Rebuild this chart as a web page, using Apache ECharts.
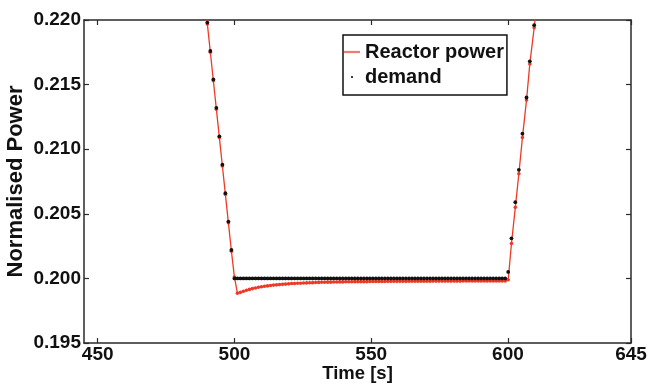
<!DOCTYPE html>
<html>
<head>
<meta charset="utf-8">
<script src="https://cdn.jsdelivr.net/npm/echarts@6/dist/echarts.min.js"></script>
<style>
html,body{margin:0;padding:0;background:#fff;}
#chart{width:648px;height:392px;}
</style>
</head>
<body>
<div id="chart"></div>
<script>
// ---- data ----
var time = [487.9,
  490.1, 491.2, 492.3, 493.4, 494.5, 495.6, 496.7, 497.8, 498.9,
  500.0, 501.1, 502.2, 503.3, 504.4, 505.5, 506.6, 507.7, 508.8, 509.9,
  511.0, 512.1, 513.2, 514.3, 515.4, 516.5, 517.6, 518.7, 519.8, 520.9,
  522.0, 523.1, 524.2, 525.3, 526.4, 527.5, 528.6, 529.7, 530.8, 531.9,
  533.0, 534.1, 535.2, 536.3, 537.4, 538.5, 539.6, 540.7, 541.8, 542.9,
  544.0, 545.1, 546.2, 547.3, 548.4, 549.5, 550.6, 551.7, 552.8, 553.9,
  555.0, 556.1, 557.2, 558.3, 559.4, 560.5, 561.6, 562.7, 563.8, 564.9,
  566.0, 567.1, 568.2, 569.3, 570.4, 571.5, 572.6, 573.7, 574.8, 575.9,
  577.0, 578.1, 579.2, 580.3, 581.4, 582.5, 583.6, 584.7, 585.8, 586.9,
  588.0, 589.1, 590.2, 591.3, 592.4, 593.5, 594.6, 595.7, 596.8, 597.9,
  599.0, 600.1,
  601.3, 602.7, 604.0, 605.3, 606.8, 608.0, 609.6, 611.0];

var demand = [0.2242,
  0.2198, 0.2176, 0.2154, 0.2132, 0.2110, 0.2088, 0.2066, 0.2044, 0.2022,
  0.2000, 0.2000, 0.2000, 0.2000, 0.2000, 0.2000, 0.2000, 0.2000, 0.2000, 0.2000,
  0.2000, 0.2000, 0.2000, 0.2000, 0.2000, 0.2000, 0.2000, 0.2000, 0.2000, 0.2000,
  0.2000, 0.2000, 0.2000, 0.2000, 0.2000, 0.2000, 0.2000, 0.2000, 0.2000, 0.2000,
  0.2000, 0.2000, 0.2000, 0.2000, 0.2000, 0.2000, 0.2000, 0.2000, 0.2000, 0.2000,
  0.2000, 0.2000, 0.2000, 0.2000, 0.2000, 0.2000, 0.2000, 0.2000, 0.2000, 0.2000,
  0.2000, 0.2000, 0.2000, 0.2000, 0.2000, 0.2000, 0.2000, 0.2000, 0.2000, 0.2000,
  0.2000, 0.2000, 0.2000, 0.2000, 0.2000, 0.2000, 0.2000, 0.2000, 0.2000, 0.2000,
  0.2000, 0.2000, 0.2000, 0.2000, 0.2000, 0.2000, 0.2000, 0.2000, 0.2000, 0.2000,
  0.2000, 0.2000, 0.2000, 0.2000, 0.2000, 0.2000, 0.2000, 0.2000, 0.2000, 0.2000,
  0.2000, 0.2005,
  0.2031, 0.2059, 0.2084, 0.2112, 0.2140, 0.2168, 0.2196, 0.2224];

var reactorPower = [0.2241,
  0.2197, 0.2175, 0.2153, 0.2131, 0.2109, 0.2087, 0.2065, 0.2043, 0.2021,
  0.2001, 0.19886, 0.19892, 0.19900, 0.19908, 0.19915, 0.19921, 0.19926, 0.19931, 0.19935,
  0.19939, 0.19942, 0.19945, 0.19948, 0.19950, 0.19952, 0.19954, 0.19956, 0.19958, 0.19960,
  0.19961, 0.19962, 0.19963, 0.19964, 0.19965, 0.19966, 0.19967, 0.19968, 0.19969, 0.19970,
  0.19970, 0.19971, 0.19971, 0.19972, 0.19972, 0.19973, 0.19973, 0.19974, 0.19974, 0.19974,
  0.19975, 0.19975, 0.19975, 0.19975, 0.19975, 0.19976, 0.19976, 0.19976, 0.19976, 0.19976,
  0.19976, 0.19977, 0.19977, 0.19977, 0.19977, 0.19977, 0.19977, 0.19977, 0.19978, 0.19978,
  0.19978, 0.19978, 0.19978, 0.19978, 0.19978, 0.19978, 0.19979, 0.19979, 0.19979, 0.19979,
  0.19979, 0.19979, 0.19979, 0.19979, 0.19979, 0.19979, 0.19980, 0.19980, 0.19980, 0.19980,
  0.19980, 0.19980, 0.19980, 0.19980, 0.19980, 0.19980, 0.19980, 0.19980, 0.19980, 0.19980,
  0.19980, 0.1999,
  0.2027, 0.2055, 0.2081, 0.2109, 0.2138, 0.2166, 0.2194, 0.2222];

var xTicks = [450, 500, 550, 600, 645];
var seriesNames = ['Reactor power', 'demand'];

// ---- chart ----
var FONT = '"Liberation Sans", Arial, Helvetica, sans-serif';
var AXIS_COLOR = '#2a2a2a';
var chart = echarts.init(document.getElementById('chart'), null, {renderer: 'canvas'});

function pairs(xs, ys) { return xs.map(function (t, i) { return [t, ys[i]]; }); }

var axisLineStyle = {show: true, lineStyle: {color: AXIS_COLOR, width: 1.5}};
var tickStyle = {show: true, inside: true, length: 5, lineStyle: {color: AXIS_COLOR, width: 1.2}};

chart.setOption({
  animation: false,
  backgroundColor: '#ffffff',
  grid: {left: 84, right: 17, top: 20, bottom: 49, containLabel: false, outerBoundsMode: 'none'},
  legend: {
    orient: 'vertical',
    left: 343, top: 35,
    padding: [7, 3, 8, 1],
    itemWidth: 16, itemHeight: 2.2, itemGap: 5,
    borderColor: '#111', borderWidth: 1.5,
    backgroundColor: '#fff',
    itemStyle: {borderWidth: 0},
    textStyle: {fontFamily: FONT, fontWeight: 'bold', fontSize: 20, color: '#111'},
    data: [
      {name: seriesNames[0], icon: 'rect', itemStyle: {color: '#f07a70'}},
      {name: seriesNames[1], icon: 'circle'}
    ]
  },
  xAxis: [{
    type: 'value', position: 'bottom', min: 445, max: 645,
    axisLine: axisLineStyle,
    axisTick: Object.assign({customValues: xTicks}, tickStyle),
    axisLabel: {customValues: xTicks, fontFamily: FONT, fontWeight: 'bold', fontSize: 19, color: '#111', margin: 2},
    splitLine: {show: false},
    name: 'Time [s]', nameLocation: 'middle', nameGap: 21, nameMoveOverlap: false,
    nameTextStyle: {fontFamily: FONT, fontWeight: 'bold', fontSize: 18.5, color: '#111'}
  }, {
    type: 'value', position: 'top', min: 445, max: 645,
    axisLine: axisLineStyle,
    axisTick: Object.assign({customValues: xTicks}, tickStyle),
    axisLabel: {show: false},
    splitLine: {show: false}
  }],
  yAxis: [{
    type: 'value', position: 'left', min: 0.195, max: 0.220, interval: 0.005,
    axisLine: axisLineStyle,
    axisTick: tickStyle,
    axisLabel: {fontFamily: FONT, fontWeight: 'bold', fontSize: 19, color: '#111', margin: 3,
      formatter: function (v) { return v.toFixed(3); }},
    splitLine: {show: false},
    name: 'Normalised Power', nameLocation: 'middle', nameGap: 57, nameMoveOverlap: false,
    nameTextStyle: {fontFamily: FONT, fontWeight: 'bold', fontSize: 22, color: '#111'}
  }, {
    type: 'value', position: 'right', min: 0.195, max: 0.220, interval: 0.005,
    axisLine: axisLineStyle,
    axisTick: tickStyle,
    axisLabel: {show: false},
    splitLine: {show: false}
  }],
  series: [{
    name: seriesNames[0],
    type: 'line',
    xAxisIndex: 0, yAxisIndex: 0,
    data: pairs(time, reactorPower),
    showSymbol: true, symbol: 'circle', symbolSize: 3.6,
    itemStyle: {color: '#ee3a24', borderWidth: 0},
    lineStyle: {color: '#ee3a24', width: 1.3},
    clip: true,
    z: 2
  }, {
    name: seriesNames[1],
    type: 'scatter',
    xAxisIndex: 0, yAxisIndex: 0,
    data: pairs(time, demand),
    symbol: 'circle', symbolSize: 3.8,
    itemStyle: {color: '#111', opacity: 1},
    clip: true,
    z: 3
  }]
});
</script>
</body>
</html>
